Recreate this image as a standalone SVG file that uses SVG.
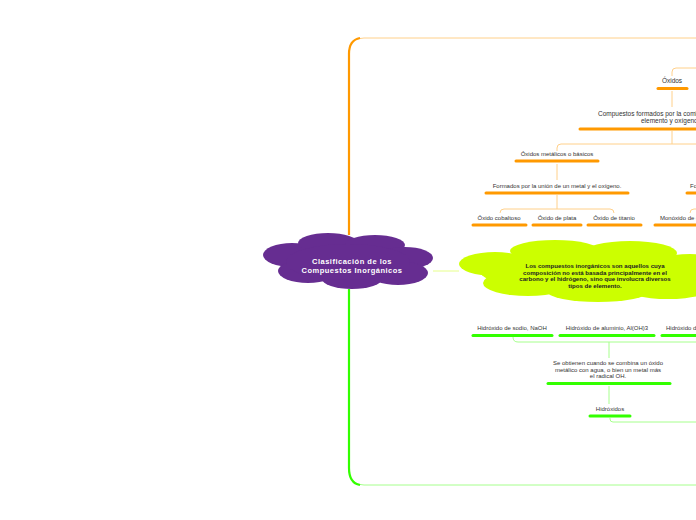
<svg xmlns="http://www.w3.org/2000/svg" width="696" height="520" viewBox="0 0 696 520">
<style>
.t{font-family:"Liberation Sans",Arial,sans-serif;font-size:6px;fill:#333;text-anchor:middle}
.ts{text-anchor:start}
.big{font-size:6.5px}
.ct{font-family:"Liberation Sans",Arial,sans-serif;font-weight:bold;fill:#fff;font-size:7.5px;letter-spacing:0.5px;text-anchor:middle}
.gt{font-family:"Liberation Sans",Arial,sans-serif;font-weight:bold;fill:#222;font-size:6.1px;text-anchor:middle}
.uo{stroke:#ff9900;stroke-width:3;stroke-linecap:round;fill:none}
.ug{stroke:#33ff00;stroke-width:3;stroke-linecap:round;fill:none}
.lo{stroke:#ffd08a;stroke-width:1;fill:none}
.lg{stroke:#a6ff8c;stroke-width:1;fill:none}
</style>
<rect width="696" height="520" fill="#fff"/>
<g id="connectors">
  <path class="lo" d="M349,235 V52 Q349,38 364,38 H696"/>
  <path d="M349,235 V54 Q349,40 360,38" stroke="#ff9900" stroke-width="2.2" fill="none"/>
  <path class="lg" d="M349,289 V470 Q349,485 364,485 H696"/>
  <path d="M349,289 V468 Q349,483 360,485" stroke="#33ff00" stroke-width="2.2" fill="none"/>
  <path d="M433,271 H459" stroke="#e6ff8a" stroke-width="1" fill="none"/>
  <path class="lo" d="M672,76 V72 Q672,68 676,68 H696"/>
  <path class="lo" d="M672,91 V107"/>
  <path class="lo" d="M672,131 V144"/>
  <path class="lo" d="M557,151 V148 Q557,144 561,144 H696"/>
  <path class="lo" d="M557,164 V180"/>
  <path class="lo" d="M557,195 V209"/>
  <path class="lo" d="M500,213 Q500,209 504,209 H610 Q614,209 614,213"/>
  <path class="lo" d="M690,213 Q690,209 694,209 H696"/>
  <path class="lg" d="M513,337 Q513,342 518,342 H696"/>
  <path class="lg" d="M609,342 V358"/>
  <path class="lg" d="M609,386 V404"/>
  <path class="lg" d="M610,418 V419 Q610,422 613,422 H696"/>
</g>
<g id="root">
  <g fill="#662d91">
    <ellipse cx="292" cy="255" rx="29" ry="12"/>
    <ellipse cx="328" cy="243" rx="30" ry="10"/>
    <ellipse cx="375" cy="245" rx="30" ry="10"/>
    <ellipse cx="405" cy="258" rx="28" ry="11"/>
    <ellipse cx="308" cy="271" rx="30" ry="12"/>
    <ellipse cx="352" cy="279" rx="30" ry="10"/>
    <ellipse cx="398" cy="273" rx="30" ry="12"/>
    <ellipse cx="348" cy="262" rx="62" ry="18"/>
  </g>
  <text class="ct" x="352" y="263.5">Clasificación de los</text>
  <text class="ct" x="352" y="272.5">Compuestos Inorgánicos</text>
</g>
<g id="definicion">
  <g fill="#ccff00">
    <ellipse cx="495" cy="264" rx="36" ry="12"/>
    <ellipse cx="555" cy="251" rx="45" ry="11"/>
    <ellipse cx="630" cy="253" rx="47" ry="12"/>
    <ellipse cx="690" cy="268" rx="40" ry="14"/>
    <ellipse cx="528" cy="283" rx="45" ry="13"/>
    <ellipse cx="598" cy="292" rx="50" ry="10"/>
    <ellipse cx="668" cy="288" rx="45" ry="11"/>
    <ellipse cx="590" cy="271" rx="110" ry="22"/>
  </g>
  <text class="gt" x="595" y="268">Los compuestos inorgánicos son aquellos cuya</text>
  <text class="gt" x="595" y="274.5">composición no está basada principalmente en el</text>
  <text class="gt" x="595" y="281">carbono y el hidrógeno, sino que involucra diversos</text>
  <text class="gt" x="595" y="287.5">tipos de elemento.</text>
</g>
<g id="oxidos">
  <text class="t big" x="672" y="83">Óxidos</text>
  <path class="uo" d="M658,88.5 H687"/>
</g>
<g id="oxidos-def">
  <text class="t ts big" x="598" y="116">Compuestos formados por la combinación de un</text>
  <text class="t ts big" x="641" y="123">elemento y oxígeno.</text>
  <path class="uo" d="M580,129 H700"/>
</g>
<g id="oxidos-metalicos">
  <text class="t" x="557" y="156">Óxidos metálicos o básicos</text>
  <path class="uo" d="M516,161 H598"/>
</g>
<g id="formados-metal">
  <text class="t" x="557" y="188">Formados por la unión de un metal y el oxígeno.</text>
  <path class="uo" d="M486,193 H628"/>
</g>
<g id="formados-nometal">
  <text class="t ts" x="690" y="188">Formados por la unión de un no metal y el oxígeno.</text>
  <path class="uo" d="M687,193 H700"/>
</g>
<g id="oxido-cobaltoso">
  <text class="t" x="499" y="220">Óxido cobaltoso</text>
  <path class="uo" d="M473,225 H526"/>
</g>
<g id="oxido-plata">
  <text class="t" x="557" y="220">Óxido de plata</text>
  <path class="uo" d="M533,225 H581"/>
</g>
<g id="oxido-titanio">
  <text class="t" x="614" y="220">Óxido de titanio</text>
  <path class="uo" d="M588,225 H641"/>
</g>
<g id="monoxido">
  <text class="t ts" x="660" y="220">Monóxido de carbono</text>
  <path class="uo" d="M655,225 H700"/>
</g>
<g id="hidroxido-sodio">
  <text class="t" x="512" y="330">Hidróxido de sodio, NaOH</text>
  <path class="ug" d="M473,335.5 H552"/>
</g>
<g id="hidroxido-aluminio">
  <text class="t" x="607" y="330">Hidróxido de aluminio, Al(OH)3</text>
  <path class="ug" d="M560,335.5 H654"/>
</g>
<g id="hidroxido-otro">
  <text class="t ts" x="666" y="330">Hidróxido de calcio</text>
  <path class="ug" d="M662,335.5 H700"/>
</g>
<g id="hidroxidos-def">
  <text class="t" x="608" y="365">Se obtienen cuando se combina un óxido</text>
  <text class="t" x="608" y="371.5">metálico con agua, o bien un metal más</text>
  <text class="t" x="608" y="378">el radical OH.</text>
  <path class="ug" d="M548,383.5 H670"/>
</g>
<g id="hidroxidos">
  <text class="t" x="610" y="411">Hidróxidos</text>
  <path class="ug" d="M590,416 H630"/>
</g>
</svg>
